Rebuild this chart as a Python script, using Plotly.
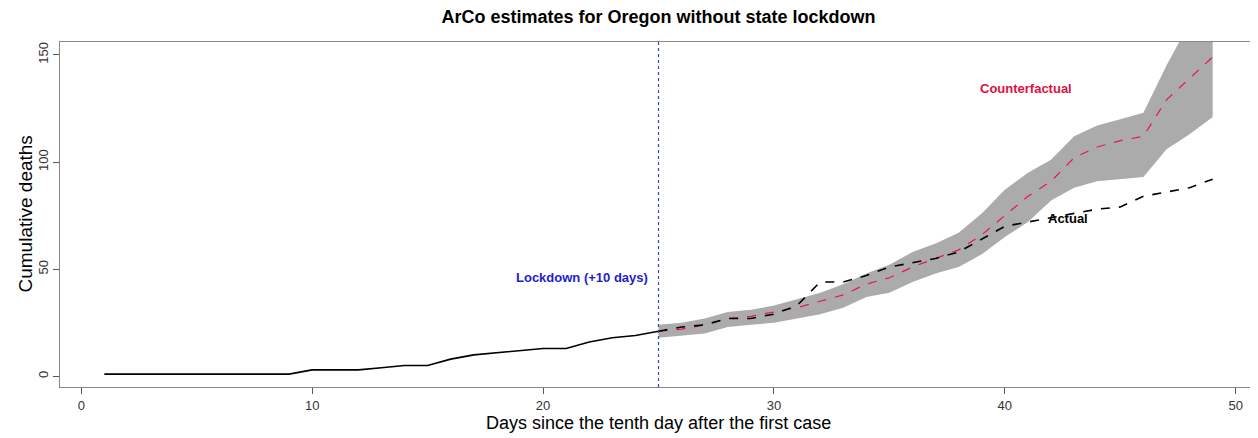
import plotly.graph_objects as go

# Observed (pre-lockdown, solid) days 1..25
days_pre = list(range(1, 26))
actual_pre = [1, 1, 1, 1, 1, 1, 1, 1, 1, 3, 3, 3, 4, 5, 5, 8, 10, 11, 12, 13, 13, 16, 18, 19, 21]

# Post-lockdown days 25..49
days_post = list(range(25, 50))
actual_post = [21, 23, 24, 27, 27, 29, 33, 44, 44, 47, 51, 53, 55, 58, 64, 70, 72, 74, 76, 78, 79, 84, 86, 88, 92]
counterfactual = [21, 22, 24, 27, 28, 30, 32, 35, 38, 43, 46, 51, 55, 59, 66, 75, 84, 91, 102, 107, 110, 112, 129, 139, 149]
cf_upper = [24, 25, 27, 30, 31, 33, 36, 39, 43, 48, 52, 58, 62, 67, 76, 87, 95, 101, 112, 117, 120, 123, 145, 165, 176]
cf_lower = [18, 19, 20, 23, 24, 25, 27, 29, 32, 37, 39, 44, 48, 51, 57, 65, 72, 82, 88, 91, 92, 93, 106, 113, 121]

x_ticks = [0, 10, 20, 30, 40, 50]
y_ticks = [0, 50, 100, 150]
lockdown_day = 25

FONT = "Liberation Sans, Arial, sans-serif"
# page body has an 8px default margin; size the figure so it fits the 1258x438 window
OFF = 8
W, H = 1258 - OFF, 438 - OFF
L, T = 60 - OFF, 42 - OFF
PW, PH = 1257 - 60, 387 - 42
R, B = W - L - PW, H - T - PH

fig = go.Figure()

# confidence band
fig.add_trace(go.Scatter(
    x=days_post + days_post[::-1],
    y=cf_upper + cf_lower[::-1],
    fill="toself", fillcolor="#ABABAB", line=dict(width=0),
    mode="lines", hoverinfo="skip", showlegend=False))

# pre-lockdown actual (solid)
fig.add_trace(go.Scatter(x=days_pre, y=actual_pre, mode="lines",
                         line=dict(color="black", width=1.6), showlegend=False))
# counterfactual (red dashed)
fig.add_trace(go.Scatter(x=days_post, y=counterfactual, mode="lines",
                         line=dict(color="#E8174A", width=1.2, dash="dash"), showlegend=False))
# post-lockdown actual (black dashed)
fig.add_trace(go.Scatter(x=days_post, y=actual_post, mode="lines",
                         line=dict(color="black", width=1.6, dash="dash"), showlegend=False))

# lockdown vertical line
fig.add_shape(type="line", x0=lockdown_day, x1=lockdown_day, y0=0, y1=1,
              xref="x", yref="paper", line=dict(color="#3344BB", width=1.2, dash="dot"))

fig.add_annotation(x=24.65, y=46, text="<b>Lockdown (+10 days)</b>", showarrow=False,
                   xanchor="right", font=dict(family=FONT, size=13, color="#2222CC"))
fig.add_annotation(x=40.9, y=134.5, text="<b>Counterfactual</b>", showarrow=False,
                   font=dict(family=FONT, size=13, color="#E0103F"))
fig.add_annotation(x=42.75, y=73.5, text="<b>Actual</b>", showarrow=False,
                   font=dict(family=FONT, size=13, color="black"))

# axis titles as annotations (exact placement, page coords minus offset)
fig.add_annotation(xref="paper", yref="paper", x=0.5, y=(T + PH - (423 - OFF)) / PH,
                   text="Days since the tenth day after the first case", showarrow=False,
                   xanchor="center", yanchor="middle",
                   font=dict(family=FONT, size=18, color="black"))
fig.add_annotation(xref="paper", yref="paper", x=((25 - OFF) - L) / PW, y=0.5,
                   text="Cumulative deaths", showarrow=False, textangle=-90,
                   xanchor="center", yanchor="middle",
                   font=dict(family=FONT, size=19, color="black"))

fig.update_layout(
    width=W, height=H,
    margin=dict(l=L, r=R, t=T, b=B, autoexpand=False),
    paper_bgcolor="white", plot_bgcolor="white",
    font=dict(family=FONT, color="black"),
    title=dict(text="<b>ArCo estimates for Oregon without state lockdown</b>",
               x=(L + PW / 2) / W, xanchor="center", y=1 - (17 - OFF) / H, yanchor="middle",
               font=dict(family=FONT, size=18, color="black")),
    showlegend=False,
)

fig.update_xaxes(
    range=[-0.92, 50.92], tickvals=x_ticks, ticks="outside", ticklen=6, tickcolor="#555",
    showgrid=False, zeroline=False, showline=True, linecolor="#888", linewidth=1, mirror=True,
    automargin=False,
    tickfont=dict(family=FONT, size=13, color="#333"))
fig.update_yaxes(
    range=[-5, 156], tickvals=y_ticks, ticks="outside", ticklen=6, tickcolor="#555",
    tickangle=-90, automargin=False,
    showgrid=False, zeroline=False, showline=True, linecolor="#888", linewidth=1, mirror=True,
    tickfont=dict(family=FONT, size=13, color="#333"))

fig.write_html("out.html")
